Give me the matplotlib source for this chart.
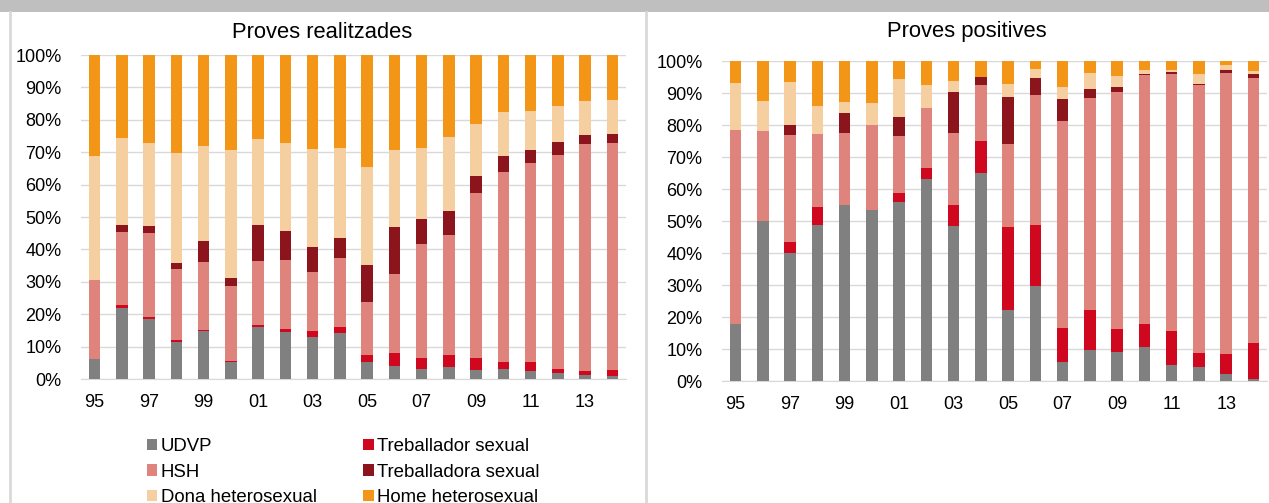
import numpy as np
import matplotlib.pyplot as plt
from matplotlib.patches import Rectangle, Patch
from matplotlib.lines import Line2D

plt.rcParams['font.family'] = ['Liberation Sans', 'DejaVu Sans']

years = ['95', '96', '97', '98', '99', '00', '01', '02', '03', '04',
         '05', '06', '07', '08', '09', '10', '11', '12', '13', '14']
tick_labels = ['95', '97', '99', '01', '03', '05', '07', '09', '11', '13']

groups = ['UDVP', 'Treballador sexual', 'HSH', 'Treballadora sexual',
          'Dona heterosexual', 'Home heterosexual']
colors = ['#808080', '#d0081f', '#df847c', '#8c141c', '#f5cfa0', '#f39517']

# Proves realitzades (% per any)
real_udvp = [6.1, 22.0, 18.5, 11.5, 14.9, 5.3, 15.9, 14.6, 12.9, 14.2,
             5.3, 4.0, 3.1, 3.7, 2.8, 3.1, 2.5, 1.7, 1.2, 0.8]
real_ts = [0.0, 0.8, 0.6, 0.5, 0.2, 0.2, 0.8, 0.7, 2.0, 1.7,
           2.2, 4.1, 3.4, 3.8, 3.7, 2.1, 2.7, 1.5, 1.3, 2.1]
real_hsh = [24.6, 22.6, 26.0, 22.0, 21.0, 23.3, 19.7, 21.4, 18.1, 21.4,
            16.4, 24.3, 35.1, 37.0, 50.9, 58.6, 61.6, 65.9, 70.0, 70.0]
real_tsa = [0.0, 2.1, 2.1, 1.9, 6.5, 2.5, 11.2, 8.9, 7.6, 6.2,
            11.4, 14.4, 7.8, 7.2, 5.2, 5.0, 3.9, 4.0, 2.8, 2.6]
real_dona = [38.1, 26.8, 25.6, 33.9, 29.2, 39.4, 26.6, 27.2, 30.4, 27.9,
             30.1, 23.9, 22.0, 23.0, 16.2, 13.5, 12.0, 11.2, 10.6, 10.6]
real_home = [31.2, 25.7, 27.2, 30.2, 28.2, 29.3, 25.8, 27.2, 29.0, 28.6,
             34.6, 29.3, 28.6, 25.3, 21.2, 17.7, 17.3, 15.7, 14.1, 13.9]

# Proves positives (% per any)
pos_udvp = [17.8, 50.0, 40.1, 48.6, 55.0, 53.4, 55.9, 63.0, 48.4, 65.0,
            22.2, 29.7, 5.9, 9.8, 9.0, 10.6, 4.9, 4.4, 2.1, 0.5]
pos_ts = [0.0, 0.0, 3.3, 5.8, 0.0, 0.0, 2.9, 3.6, 6.5, 10.0,
          25.8, 18.9, 10.7, 12.4, 7.3, 7.2, 10.7, 4.4, 6.3, 11.4]
pos_hsh = [60.7, 28.1, 33.4, 22.7, 22.5, 26.5, 17.7, 18.6, 22.6, 17.6,
           26.2, 40.7, 64.7, 66.2, 73.9, 77.8, 80.2, 83.7, 87.9, 82.7]
pos_tsa = [0.0, 0.0, 3.1, 0.0, 6.4, 0.0, 5.9, 0.0, 12.8, 2.4,
           14.7, 5.4, 6.9, 2.9, 1.6, 0.4, 0.7, 0.4, 0.9, 1.3]
pos_dona = [14.5, 9.4, 13.5, 8.7, 3.2, 7.0, 11.9, 7.4, 3.3, 0.0,
            3.8, 2.7, 3.7, 5.0, 3.4, 1.3, 0.6, 2.9, 1.4, 0.9]
pos_home = [7.0, 12.5, 6.6, 14.2, 12.9, 13.1, 5.7, 7.4, 6.4, 5.0,
            7.3, 2.6, 8.1, 3.7, 4.8, 2.7, 2.9, 4.2, 1.4, 3.2]

W, H = 1269, 503
fig = plt.figure(figsize=(W / 100, H / 100), dpi=100)

# franja grisa superior i línies de separació
fig.patches.append(Rectangle((0, 1 - 12 / H), 1, 12 / H, transform=fig.transFigure,
                             facecolor='#bfbfbf', edgecolor='none', zorder=0))
for xp in (10, 646):
    fig.add_artist(Line2D([xp / W, xp / W], [0, 1 - 12 / H], transform=fig.transFigure,
                          color='#d9d9d9', lw=2))


def stacked(ax, series, title, title_x):
    x = np.arange(len(years))
    data = np.array(series, dtype=float)
    data = data / data.sum(axis=0) * 100
    bottom = np.zeros(len(years))
    for vals, c in zip(data, colors):
        ax.bar(x, vals / 100, 0.42, bottom=bottom / 100, color=c, zorder=3)
        bottom += vals
    ax.set_xlim(-0.5, len(years) - 0.5)
    ax.set_ylim(0, 1)
    ax.set_yticks(np.arange(0, 1.01, 0.1))
    ax.set_yticklabels([f'{int(round(v * 100))}%' for v in np.arange(0, 1.01, 0.1)])
    ax.set_xticks(x[::2])
    ax.set_xticklabels(tick_labels)
    ax.grid(axis='y', color='#d9d9d9', lw=1, zorder=0)
    ax.tick_params(length=0, labelsize=13, colors='#000000')
    ax.tick_params(axis='x', pad=11)
    ax.tick_params(axis='y', pad=14)
    for s in ('top', 'right', 'left'):
        ax.spines[s].set_visible(False)
    ax.spines['bottom'].set_color('#d9d9d9')
    fig.text(title_x / W, 1 - 32 / H, title, ha='center', va='center', fontsize=15.8)


# eixos en píxels: esquerra, dalt, dreta, baix
def px_axes(l, t, r, b):
    return fig.add_axes([l / W, 1 - b / H, (r - l) / W, (b - t) / H])


ax1 = px_axes(81, 55, 626, 379)
stacked(ax1, [real_udvp, real_ts, real_hsh, real_tsa, real_dona, real_home],
        'Proves realitzades', 322)
ax2 = px_axes(722, 61, 1267, 381)
stacked(ax2, [pos_udvp, pos_ts, pos_hsh, pos_tsa, pos_dona, pos_home],
        'Proves positives', 967)

order = [0, 2, 4, 1, 3, 5]
handles = [Patch(facecolor=colors[i], edgecolor='none') for i in order]
labels = [groups[i] for i in order]
fig.legend(handles, labels, loc='upper left', bbox_to_anchor=(147 / W, 1 - 438 / H),
           ncol=2, frameon=False, fontsize=13.4, handlelength=0.55, handleheight=0.55,
           handletextpad=0.2, labelspacing=0.46, columnspacing=2.5, borderaxespad=0,
           borderpad=0)

fig.savefig('out.png', dpi=100)
